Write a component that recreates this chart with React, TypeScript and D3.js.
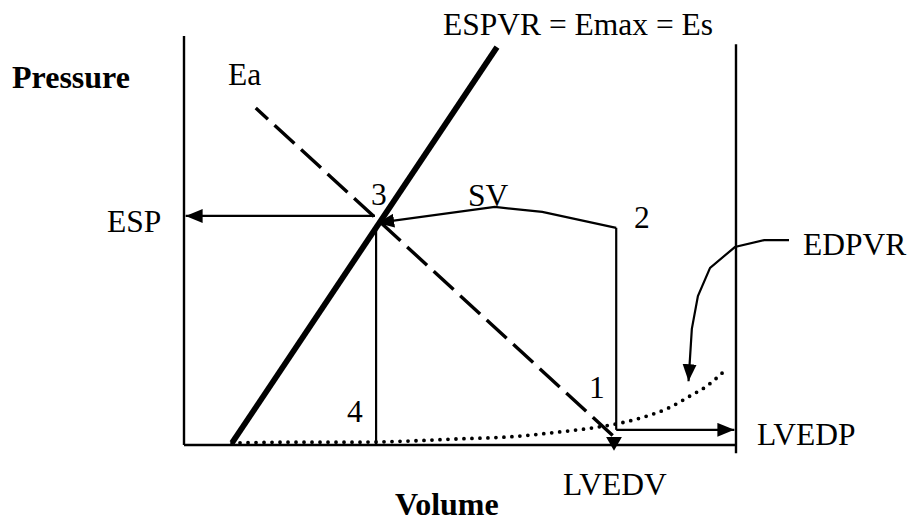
import React from "react";
import * as d3 from "d3";

const W = 910;
const H = 521;

// volume / pressure in arbitrary units, 0-100 across the frame
const espvrLine: [number, number][] = [[8.7, 0.5], [56.7, 97.3]];
const eaLine: [number, number][] = [[13.0, 82.4], [77.9, 2.0]];
const edpvrCurve: [number, number][] = [
  [8.7, 0.5], [21.0, 0.7], [31.9, 0.7], [50.0, 1.5], [59.1, 2.0], [68.1, 3.2],
  [74.1, 4.2], [78.1, 5.1], [83.2, 6.8], [87.7, 9.0], [91.7, 12.0], [94.7, 14.4], [97.5, 17.6],
];
// ejection limb 2 -> 3 (stroke volume)
const svCurve: [number, number][] = [[78.3, 53.1], [64.9, 57.0], [56.3, 58.2], [35.0, 54.3]];
const isoRelax: [number, number][] = [[34.8, 53.3], [34.8, 0]];
const isoContract: [number, number][] = [[78.3, 53.1], [78.3, 3.7]];
const espArrow: [number, number][] = [[34.6, 56.0], [0.3, 56.0]];
const lvedpArrow: [number, number][] = [[78.3, 3.7], [99.7, 3.7]];
const edpvrPointer: [number, number][] = [
  [109.6, 50.1], [105.1, 50.1], [99.8, 48.4], [95.3, 43.3], [93.1, 36.4], [92.0, 28.4], [91.4, 15.6],
];
const rightWall: [number, number][] = [[100, 98.0], [100, -2.0]];

const x = d3.scaleLinear().domain([0, 100]).range([184, 736]);
const y = d3.scaleLinear().domain([0, 100]).range([445, 36]);

const line = d3.line<[number, number]>().x(d => x(d[0])).y(d => y(d[1]));
const smooth = d3.line<[number, number]>().x(d => x(d[0])).y(d => y(d[1])).curve(d3.curveMonotoneX);

const font = "'Liberation Serif', 'Times New Roman', serif";

export default function App() {
  return (
    <svg width={W} height={H} style={{ position: "absolute", left: 0, top: 0, background: "#fff" }}>
      <defs>
        <marker id="head" markerUnits="userSpaceOnUse" markerWidth={20} markerHeight={16}
          refX={17} refY={7} orient="auto">
          <path d="M0,0 L17,7 L0,14 z" fill="#000" />
        </marker>
        <marker id="headDown" markerUnits="userSpaceOnUse" markerWidth={20} markerHeight={18}
          refX={0} refY={8} orient="90">
          <path d="M0,0 L14,8 L0,16 z" fill="#000" />
        </marker>
      </defs>

      {/* frame */}
      <line x1={x(0)} x2={x(0)} y1={y(100)} y2={y(0)} stroke="#000" strokeWidth={2.4} />
      <line x1={x(0)} x2={x(100)} y1={y(0)} y2={y(0)} stroke="#000" strokeWidth={2.4} />
      <path d={line(rightWall) || ""} stroke="#000" strokeWidth={2.4} fill="none" />

      {/* EDPVR dotted */}
      <path d={smooth(edpvrCurve) || ""} fill="none" stroke="#000" strokeWidth={3.8}
        strokeDasharray="0 8" strokeLinecap="round" />

      {/* loop */}
      <path d={line(isoRelax) || ""} stroke="#000" strokeWidth={2.2} fill="none" />
      <path d={line(isoContract) || ""} stroke="#000" strokeWidth={2.2} fill="none" />
      <path d={line(svCurve) || ""} stroke="#000" strokeWidth={2.2} fill="none" markerEnd="url(#head)" />
      <path d={line(espArrow) || ""} stroke="#000" strokeWidth={2.2} fill="none" markerEnd="url(#head)" />
      <path d={line(lvedpArrow) || ""} stroke="#000" strokeWidth={2.2} fill="none" markerEnd="url(#head)" />
      <path d={line(edpvrPointer) || ""} stroke="#000" strokeWidth={2.2} fill="none" markerEnd="url(#head)" />

      {/* Ea and ESPVR */}
      <path d={line(eaLine) || ""} stroke="#000" strokeWidth={3.4} fill="none"
        strokeDasharray="27 9" strokeDashoffset={10.5} markerEnd="url(#headDown)" />
      <path d={line(espvrLine) || ""} stroke="#000" strokeWidth={5.8} fill="none" />

      <g fontFamily={font} fontSize={31.5} fill="#000">
        <text x={12} y={88} fontWeight="bold" fontSize={32}>Pressure</text>
        <text x={395} y={515} fontWeight="bold" fontSize={32}>Volume</text>
        <text x={443} y={35}>ESPVR = Emax = Es</text>
        <text x={228} y={85}>Ea</text>
        <text x={107} y={232}>ESP</text>
        <text x={371} y={205}>3</text>
        <text x={468} y={206}>SV</text>
        <text x={634} y={228}>2</text>
        <text x={803} y={255}>EDPVR</text>
        <text x={589} y={398}>1</text>
        <text x={347} y={422}>4</text>
        <text x={757} y={445}>LVEDP</text>
        <text x={563} y={495}>LVEDV</text>
      </g>
    </svg>
  );
}
